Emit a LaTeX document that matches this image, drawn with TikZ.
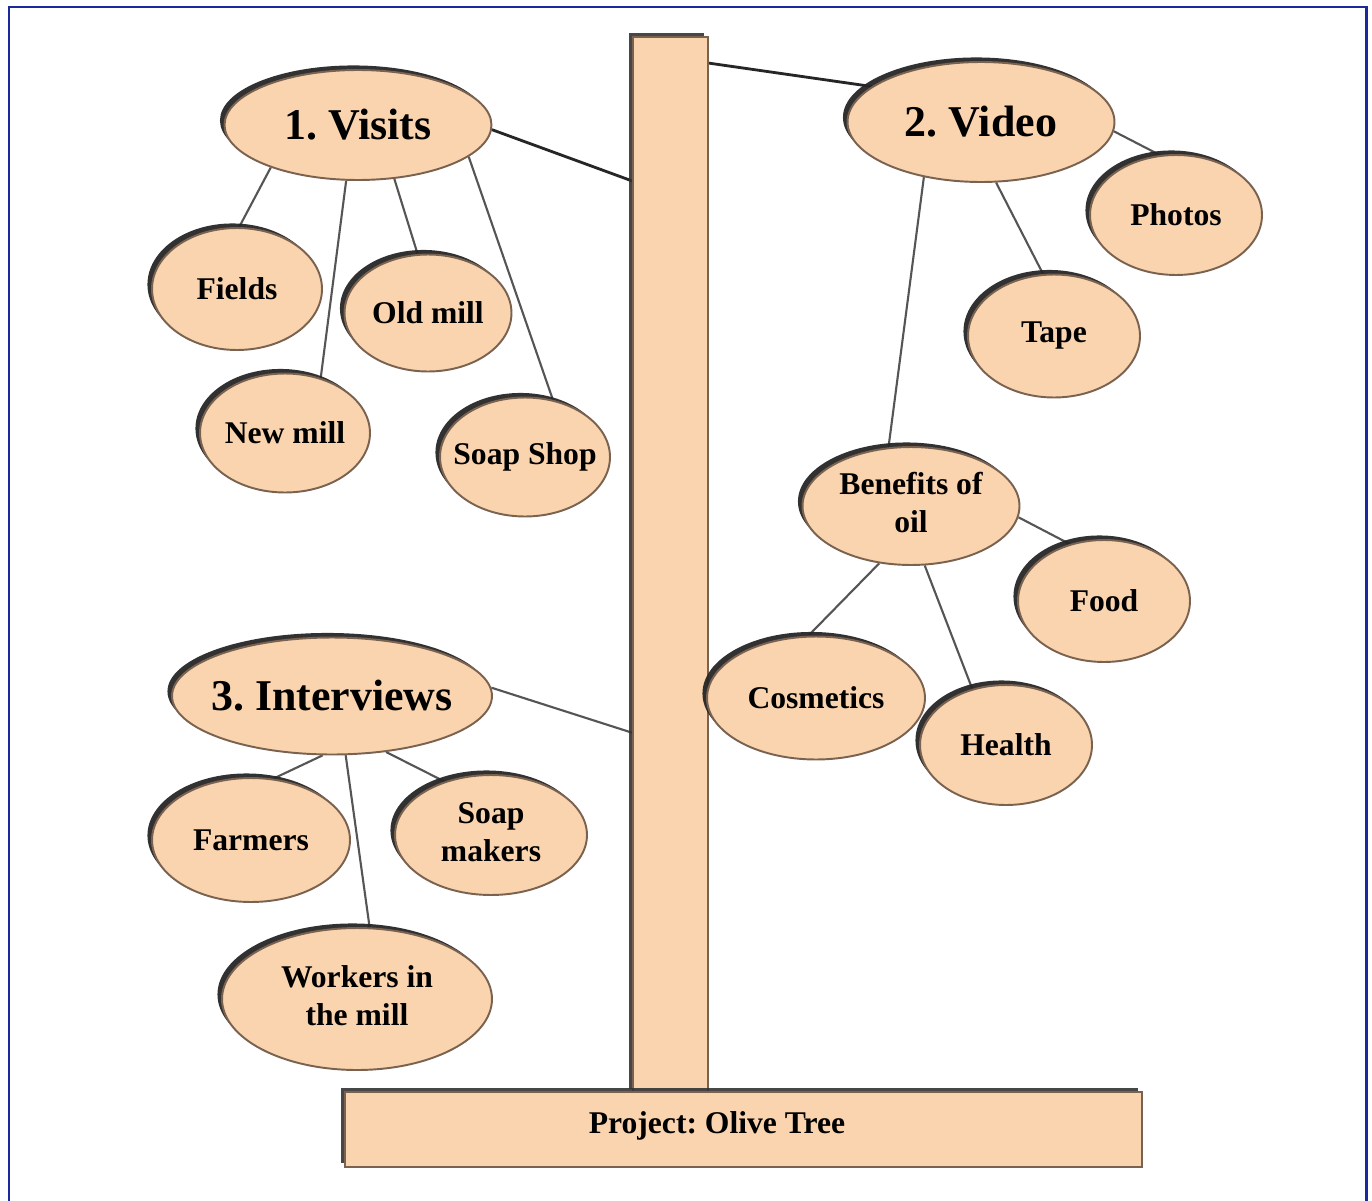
\documentclass[tikz,border=0pt]{standalone}
\usepackage{fontspec}
\setmainfont{Liberation Serif}
\frenchspacing
\usetikzlibrary{shapes.geometric,shadows}
\definecolor{peach}{HTML}{FAD4AE}
\definecolor{rim}{HTML}{7A6250}
\definecolor{framec}{HTML}{1A2A9E}
\definecolor{conn}{HTML}{555555}
\pgfdeclarelayer{bg}
\pgfsetlayers{bg,main}
\begin{document}
\begin{tikzpicture}[x=0.02cm,y=-0.02cm,
  bub/.style={ellipse, draw=rim, line width=1.1pt, fill=peach, inner sep=0pt,
    drop shadow={shadow xshift=-2.6pt, shadow yshift=2.6pt, fill=black!85, opacity=0.95}},
  big/.style={bub, font=\fontsize{25}{28}\selectfont\bfseries},
  small/.style={bub, font=\fontsize{18}{21.5}\selectfont\bfseries},
  link/.style={draw=conn, line width=1.2pt},
  boldlink/.style={draw=black!85, line width=1.6pt},
  wood/.style={rectangle, draw=rim, line width=1.1pt, fill=peach, inner sep=0pt,
    drop shadow={shadow xshift=-2.4pt, shadow yshift=2.4pt, fill=black!80, opacity=0.9}}]
\useasboundingbox (0,0) rectangle (1372,1200);
\clip (0,0) rectangle (1372,1200);

% trunk and base
\node[wood, minimum width=1.5cm, minimum height=21.12cm] (trunk) at (670.5,565) {};
\node[wood, minimum width=15.94cm, minimum height=1.5cm] (base) at (743.5,1129.5) {};
\node[font=\fontsize{18}{21}\selectfont\bfseries, inner sep=0pt] (basetext) at (717,1126) {Project: Olive Tree};
\coordinate (tv) at (635,182);
\coordinate (tvid) at (708,63);
\coordinate (ti) at (633,733);

% main topics
\node[big, minimum width=5.34cm, minimum height=2.2cm] (visits) at (358,125) {\makebox[0pt]{1. Visits}};
\node[big, minimum width=5.34cm, minimum height=2.4cm] (video) at (981,122) {\makebox[0pt]{2. Video}};
\node[big, minimum width=6.4cm, minimum height=2.34cm] (interviews) at (332,696) {\makebox[0pt]{3. Interviews}};

% visits
\node[small, minimum width=3.4cm, minimum height=2.44cm] (fields) at (237,289) {\makebox[0pt]{Fields}};
\node[small, minimum width=3.34cm, minimum height=2.34cm] (oldmill) at (428,313) {\makebox[0pt]{Old mill}};
\node[small, minimum width=3.4cm, minimum height=2.38cm] (newmill) at (285,433) {\makebox[0pt]{New mill}};
\node[small, minimum width=3.4cm, minimum height=2.38cm] (soapshop) at (525,457) {\makebox[0pt]{Soap Shop}};

% video
\node[small, minimum width=3.44cm, minimum height=2.4cm] (photos) at (1176,215) {\makebox[0pt]{Photos}};
\node[small, minimum width=3.44cm, minimum height=2.46cm] (tape) at (1054,336) {\makebox[0pt]{Tape}};
\node[small, minimum width=4.34cm, minimum height=2.36cm] (benefits) at (911,506) {\makebox[0pt]{\begin{tabular}{@{}c@{}}Benefits of\\oil\end{tabular}}};
\node[small, minimum width=3.44cm, minimum height=2.44cm] (food) at (1104,601) {\makebox[0pt]{Food}};
\node[small, minimum width=4.36cm, minimum height=2.46cm] (cosmetics) at (816,698) {\makebox[0pt]{Cosmetics}};
\node[small, minimum width=3.44cm, minimum height=2.4cm] (health) at (1006,745) {\makebox[0pt]{Health}};

% interviews
\node[small, minimum width=3.96cm, minimum height=2.48cm] (farmers) at (251,840) {\makebox[0pt]{Farmers}};
\node[small, minimum width=3.84cm, minimum height=2.4cm] (soapmakers) at (491,835) {\makebox[0pt]{\begin{tabular}{@{}c@{}}Soap\\makers\end{tabular}}};
\node[small, minimum width=5.4cm, minimum height=2.84cm] (workers) at (357,999) {\makebox[0pt]{\begin{tabular}{@{}c@{}}Workers in\\the mill\end{tabular}}};

\begin{pgfonlayer}{bg}
\fill[white] (0,0) rectangle (1372,1200);
\draw[framec, line width=1.7pt] (9,1215) -- (9,7) -- (1366,7) -- (1366,1215);
\draw[boldlink] (visits.-2) -- (tv);
\draw[boldlink] (tvid) -- (video.162);
\draw[link] (interviews.3) -- (ti);
\draw[link] (visits.206) -- (fields.88);
\draw[link] (visits.258) -- (newmill.57);
\draw[link] (visits.-56) -- (oldmill.100);
\draw[link] (visits.-16) -- (soapshop.64);
\draw[link] (video.-4) -- (photos.105);
\draw[link] (video.-76) -- (tape.100);
\draw[link] (video.224) -- (benefits.111);
\draw[link] (benefits.-6) -- (food.121);
\draw[link] (benefits.241) -- (cosmetics.97);
\draw[link] (benefits.-77) -- (health.121);
\draw[link] (interviews.261) -- (farmers.70);
\draw[link] (interviews.-46) -- (soapmakers.131);
\draw[link] (interviews.-77) -- (workers.80);
\end{pgfonlayer}
\end{tikzpicture}
\end{document}
